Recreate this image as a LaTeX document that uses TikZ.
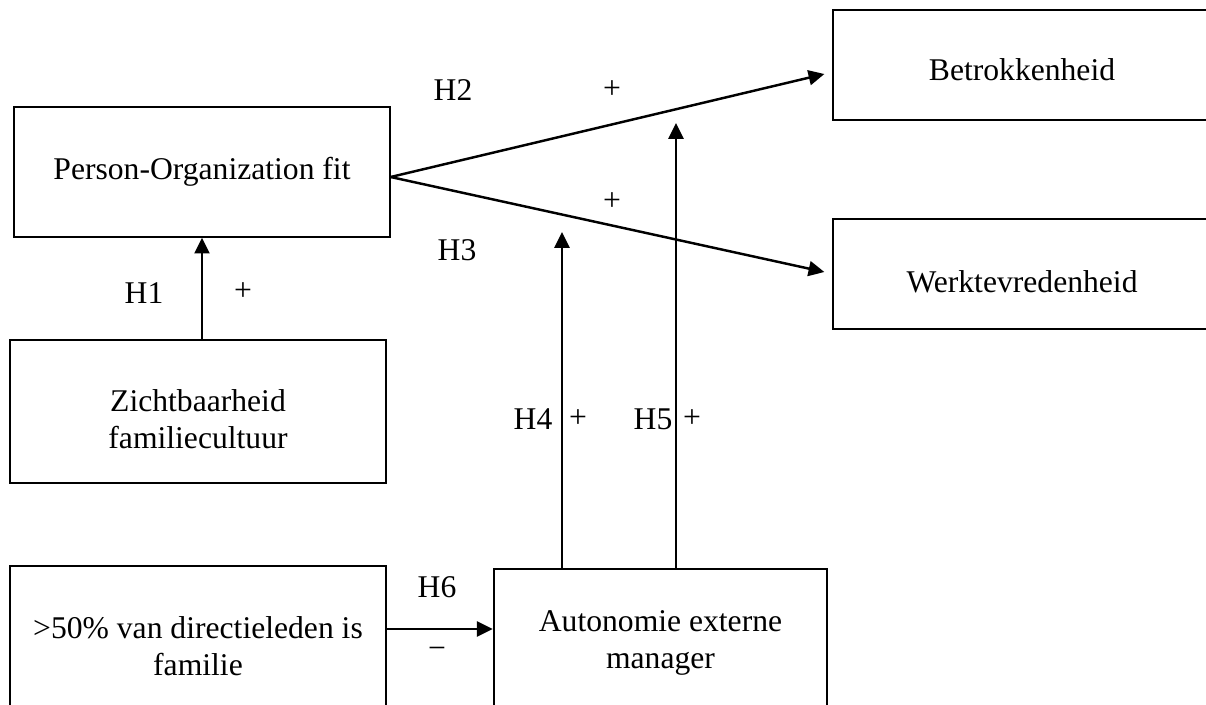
\documentclass[tikz,border=0pt]{standalone}
\usepackage{fontspec}
\setmainfont{Liberation Serif}
\usetikzlibrary{arrows.meta}

\begin{document}
\begin{tikzpicture}[x=0.02cm,y=-0.02cm,
  box/.style={draw,line width=0.75pt,align=center,inner sep=0pt,font=\fontsize{18}{21}\selectfont},
  lbl/.style={inner sep=0pt,font=\fontsize{18}{21}\selectfont},
  arr/.style={line width=1.4pt,-{Triangle[length=9pt,width=8.5pt]}}]
  \useasboundingbox (0,0) rectangle (1206,704);
  \clip (0,0) rectangle (1206,704);
  \node[box,minimum width=7.52cm,minimum height=2.6cm] (po) at (202,172) {Person-Organization fit};
  \node[box,minimum width=7.56cm,minimum height=2.2cm,text height=18.2pt,text depth=0pt] (betr) at (1022,65) {Betrokkenheid};
  \node[box,minimum width=7.56cm,minimum height=2.2cm,text height=20.5pt,text depth=0pt] (werk) at (1022,274) {Werktevredenheid};
  \node[box,minimum width=7.52cm,minimum height=2.86cm] (zicht) at (198,411.5) {\rule{0pt}{21.7pt}Zichtbaarheid\\familiecultuur};
  \node[box,minimum width=7.52cm,minimum height=3.2cm] (fam) at (198,646) {>50\%\ van directieleden is\\familie};
  \node[box,line width=1.4pt,minimum width=6.66cm,minimum height=2.96cm] (aut) at (660.5,643) {Autonomie externe\\manager};
  \coordinate (h4top) at (562,232);
  \coordinate (h5top) at (676,123);
  \coordinate (h6y) at (0,629);
  \draw[arr] ([yshift=-0.1cm]po.east) -- ([xshift=-0.16cm,yshift=-0.18cm]betr.west);
  \draw[arr] ([yshift=-0.1cm]po.east) -- ([xshift=-0.16cm,yshift=0.04cm]werk.west);
  \draw[arr] (zicht.north -| po.south) -- (po.south);
  \draw[arr] (aut.north -| h4top) -- (h4top);
  \draw[arr] (aut.north -| h5top) -- (h5top);
  \draw[arr] (fam.east |- h6y) -- (aut.west |- h6y);
  \foreach \t/\x/\y [count=\i] in {H2/453/90,+/612/90,+/612/202,H3/457/250,H1/144/293,+/243/292,
      H4/533/419,+/578/419,H5/653/419,+/692/419,H6/437/587,−/437/653}
    \node[lbl] (lbl\i) at (\x,\y) {\t};
\end{tikzpicture}
\end{document}
